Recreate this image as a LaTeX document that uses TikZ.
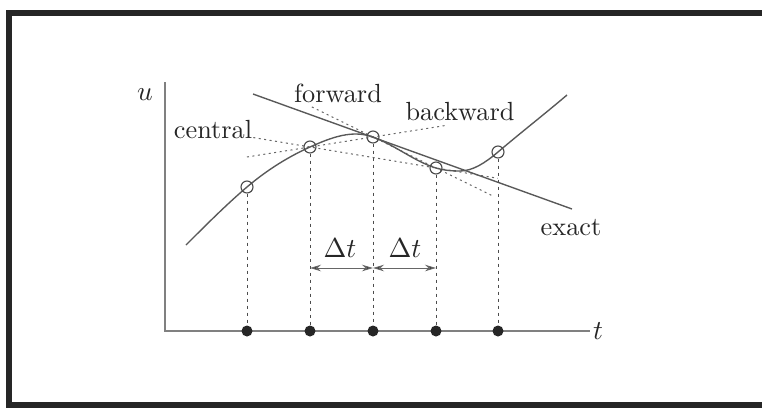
\documentclass[tikz,border=0pt]{standalone}
\usetikzlibrary{calc,arrows.meta}
\begin{document}
\begin{tikzpicture}[x=0.4pt,y=-0.4pt,
  curve/.style={line width=0.55pt, draw=black!65},
  axis/.style={line width=0.55pt, draw=black!50},
  guide/.style={line width=0.4pt, draw=black!60, dash pattern=on 0.8pt off 1.4pt},
  vdash/.style={line width=0.4pt, draw=black!70, dash pattern=on 1.3pt off 1.5pt},
  ring/.style={circle, draw=black!70, line width=0.45pt, inner sep=0pt, minimum size=4.8pt},
  dot/.style={circle, fill=black!85, inner sep=0pt, minimum size=4.4pt},
  lbl/.style={font=\fontsize{10.5}{12}\selectfont, text=black!85, inner sep=0pt},
  dim/.style={line width=0.4pt, draw=black!60, {Stealth[length=4.4pt,width=2.6pt,fill=black!85]}-{Stealth[length=4.4pt,width=2.6pt,fill=black!85]}}]

\useasboundingbox (0,0) rectangle (762,408);
\fill[white] (0,0) rectangle (762,408);
\draw[line width=2.4pt, draw=black!85] (762,13) -- (9,13) -- (9,405) -- (762,405);

% axes
\coordinate (ytop) at (165,82);
\coordinate (o) at (165,331);
\coordinate (xend) at (590,331);
\draw[axis] (ytop) -- (o) -- (xend);
\node[lbl] (ulab) at (145,95) {$u$};
\node[lbl] (tlab) at (598,331) {$t$};

% sample points
\coordinate (p1) at (247,187);
\coordinate (p2) at (310,147);
\coordinate (p3) at (373,137);
\coordinate (p4) at (436,168);
\coordinate (p5) at (498,152);

% difference guides
\draw[guide] ($(p3)!-0.97!(p4)$) -- ($(p3)!1.9!(p4)$);
\draw[guide] ($(p2)!-1!(p3)$) -- ($(p2)!2.17!(p3)$);
\draw[guide] ($(p2)!-0.45!(p4)$) -- ($(p2)!1.49!(p4)$);

% function curve
\coordinate (cstart) at (186,245);
\coordinate (cmin) at (460,171);
\coordinate (cend) at (567,95);
\draw[curve] (cstart) .. controls (206.3,224.7) and (226.7,204.3) .. (p1)
  .. controls (268,169.2) and (289,156.5) .. (p2)
  .. controls (331,137.6) and (352,129.4) .. (p3)
  .. controls (394,144.6) and (415,161.7) .. (p4)
  .. controls (444,170.4) and (452,171) .. (cmin)
  .. controls (472.7,171) and (485.3,162.8) .. (p5)
  .. controls (521,132.45) and (544,114.55) .. (cend);

% exact tangent
\coordinate (e1) at (253,94);
\coordinate (e2) at (572,209);
\draw[curve] (e1) -- (e2);

% rings and dots
\foreach \i/\x in {1/247,2/310,3/373,4/436,5/498}{
  \node[ring] (r\i) at (p\i) {};
  \node[dot] (d\i) at (\x,331) {};
  \draw[vdash] (r\i) -- (d\i);
}

% delta t
\coordinate (a2) at (310,268);
\coordinate (a3) at (373,268);
\coordinate (a4) at (436,268);
\draw[dim] (a2) -- (a3);
\draw[dim] (a3) -- (a4);
\node[lbl] (dt1) at (340,248) {$\Delta t$};
\node[lbl] (dt2) at (405,248) {$\Delta t$};

% labels
\node[lbl] (lf) at (338,93) {forward};
\node[lbl] (lb) at (460,112) {backward};
\node[lbl] (lc) at (213,130) {central};
\node[lbl] (le) at (571,228) {exact};
\end{tikzpicture}
\end{document}
